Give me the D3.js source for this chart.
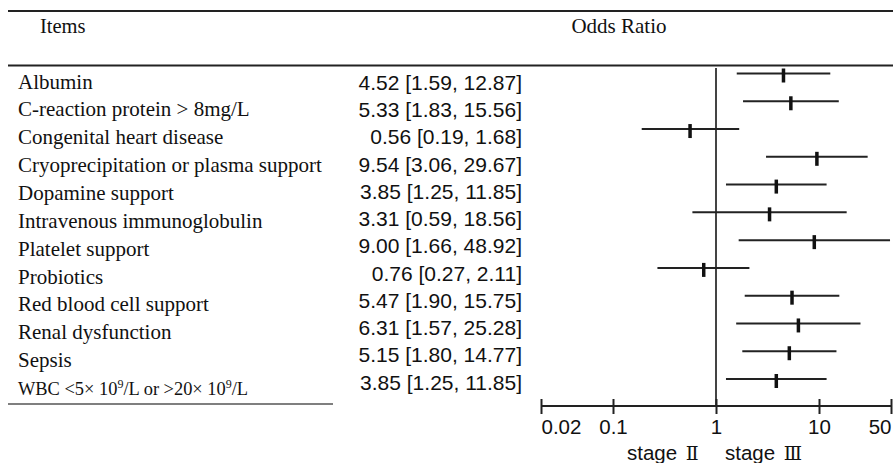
<!DOCTYPE html>
<meta charset="utf-8">
<script src="https://d3js.org/d3.v7.min.js"></script>
<style>
body { margin: 0; background: #fff; }
.serif { font-family: "Liberation Serif", "Times New Roman", serif; fill: #111; }
.sans { font-family: "Liberation Sans", Arial, sans-serif; fill: #111; }
.axis .domain { stroke: #222; stroke-width: 2px; }
.axis line { stroke: #222; stroke-width: 2px; }
.axis text { font-family: "Liberation Sans", Arial, sans-serif; font-size: 20.5px; fill: #111; }
</style>
<body>
<div id="canvas"></div>
<script>

// dados do forest plot
var items = ["Albumin", "C-reaction protein > 8mg/L", "Congenital heart disease",
    "Cryoprecipitation or plasma support", "Dopamine support", "Intravenous immunoglobulin",
    "Platelet support", "Probiotics", "Red blood cell support", "Renal dysfunction", "Sepsis",
    "WBC"];
var oddsRatio = [4.52, 5.33, 0.56, 9.54, 3.85, 3.31, 9.00, 0.76, 5.47, 6.31, 5.15, 3.85];
var lower     = [1.59, 1.83, 0.19, 3.06, 1.25, 0.59, 1.66, 0.27, 1.90, 1.57, 1.80, 1.25];
var upper     = [12.87, 15.56, 1.68, 29.67, 11.85, 18.56, 48.92, 2.11, 15.75, 25.28, 14.77, 11.85];
var tickValues = [0.02, 0.1, 1, 10, 50];
var tickLabels = ["0.02", "0.1", "1", "10", "50"];

var width = 893;
var height = 463;

var svg = d3.select('#canvas')
    .append("svg")
    .attr("width", width)
    .attr("height", height);

var fmt = d3.format(".2f");

// escala log para o OR
var x = d3.scaleLog()
    .domain([0.02, 50])
    .range([541, 891]);

// linhas (tem um leve desalinhamento entre as colunas no original)
var yLabel = d3.scaleLinear().domain([0, items.length - 1]).range([88.5, 395]);
var yNum = d3.scaleLinear().domain([0, items.length - 1]).range([90, 389.5]);
var yMark = d3.scaleLinear().domain([0, items.length - 1]).range([73.5, 379]);

// regras da tabela
svg.append("line").attr("x1", 8).attr("x2", width).attr("y1", 11).attr("y2", 11)
    .attr("stroke", "#222").attr("stroke-width", 2);
svg.append("line").attr("x1", 8).attr("x2", width).attr("y1", 65.5).attr("y2", 65.5)
    .attr("stroke", "#222").attr("stroke-width", 2);
svg.append("line").attr("x1", 8).attr("x2", 333).attr("y1", 404).attr("y2", 404)
    .attr("stroke", "#555").attr("stroke-width", 1.5);

// cabeçalho
svg.append("text").attr("class", "serif").attr("x", 40).attr("y", 33)
    .style("font-size", "20.5px").text("Items");
svg.append("text").attr("class", "serif").attr("x", 619).attr("y", 33)
    .attr("text-anchor", "middle").style("font-size", "21px").text("Odds Ratio");

// nomes das variaveis
items.forEach(function(d, i) {
    var t = svg.append("text").attr("class", "serif")
        .attr("x", 18).attr("y", yLabel(i))
        .style("font-size", "21px");
    if (d === "WBC") {
        t.style("font-size", "18.4px");
        t.append("tspan").text("WBC <5\u00d7 10");
        t.append("tspan").attr("dy", -7).style("font-size", "12px").text("9");
        t.append("tspan").attr("dy", 7).text("/L or >20\u00d7 10");
        t.append("tspan").attr("dy", -7).style("font-size", "12px").text("9");
        t.append("tspan").attr("dy", 7).text("/L");
    } else {
        t.text(d);
    }
});

// OR [IC]
svg.selectAll(".ortext")
    .data(oddsRatio)
    .enter()
    .append("text")
    .attr("class", "sans ortext")
    .attr("x", 522)
    .attr("y", function(d, i) { return yNum(i); })
    .attr("text-anchor", "end")
    .style("font-size", "21px")
    .text(function(d, i) { return fmt(d) + " [" + fmt(lower[i]) + ", " + fmt(upper[i]) + "]"; });

// linha de referencia em 1
svg.append("line")
    .attr("x1", x(1)).attr("x2", x(1))
    .attr("y1", 68).attr("y2", 406)
    .attr("stroke", "#444").attr("stroke-width", 2);

// intervalos
svg.selectAll(".ci")
    .data(oddsRatio)
    .enter()
    .append("line")
    .attr("class", "ci")
    .attr("x1", function(d, i) { return x(lower[i]); })
    .attr("x2", function(d, i) { return x(upper[i]); })
    .attr("y1", function(d, i) { return yMark(i); })
    .attr("y2", function(d, i) { return yMark(i); })
    .attr("stroke", "#222").attr("stroke-width", 2);

// estimativa pontual
svg.selectAll(".pt")
    .data(oddsRatio)
    .enter()
    .append("line")
    .attr("class", "pt")
    .attr("x1", function(d) { return x(d); })
    .attr("x2", function(d) { return x(d); })
    .attr("y1", function(d, i) { return yMark(i) - 5; })
    .attr("y2", function(d, i) { return yMark(i) + 9; })
    .attr("stroke", "#111").attr("stroke-width", 3.5);

// eixo x
var xAxis = d3.axisBottom(x)
    .tickValues(tickValues)
    .tickFormat(function(d, i) { return tickLabels[i]; })
    .tickSize(8)
    .tickSizeOuter(0);

var ax = svg.append("g")
    .attr("class", "axis")
    .attr("transform", "translate(0,406)")
    .call(xAxis);
ax.selectAll(".tick line").attr("y1", -7);
ax.selectAll(".tick text").attr("y", 13).attr("dy", "0.71em");
// primeiro e ultimo rótulos encostados nas pontas
ax.selectAll(".tick text")
    .attr("text-anchor", function(d) { return d === 0.02 ? "start" : (d === 50 ? "end" : "middle"); });
ax.select(".domain").attr("d", "M" + x(0.02) + ",0H" + x(50));

// rótulos dos lados
var st2 = svg.append("text").attr("class", "sans").attr("x", 627).attr("y", 460)
    .style("font-size", "20.5px");
st2.append("tspan").text("stage ");
st2.append("tspan").attr("dx", 3).style("font-family", "'DejaVu Serif', serif").style("font-size", "19px").text("\u2161");
var st3 = svg.append("text").attr("class", "sans").attr("x", 725).attr("y", 460)
    .style("font-size", "20.5px");
st3.append("tspan").text("stage ");
st3.append("tspan").attr("dx", 3).style("font-family", "'DejaVu Serif', serif").style("font-size", "19px").text("\u2162");

</script>
</body>
